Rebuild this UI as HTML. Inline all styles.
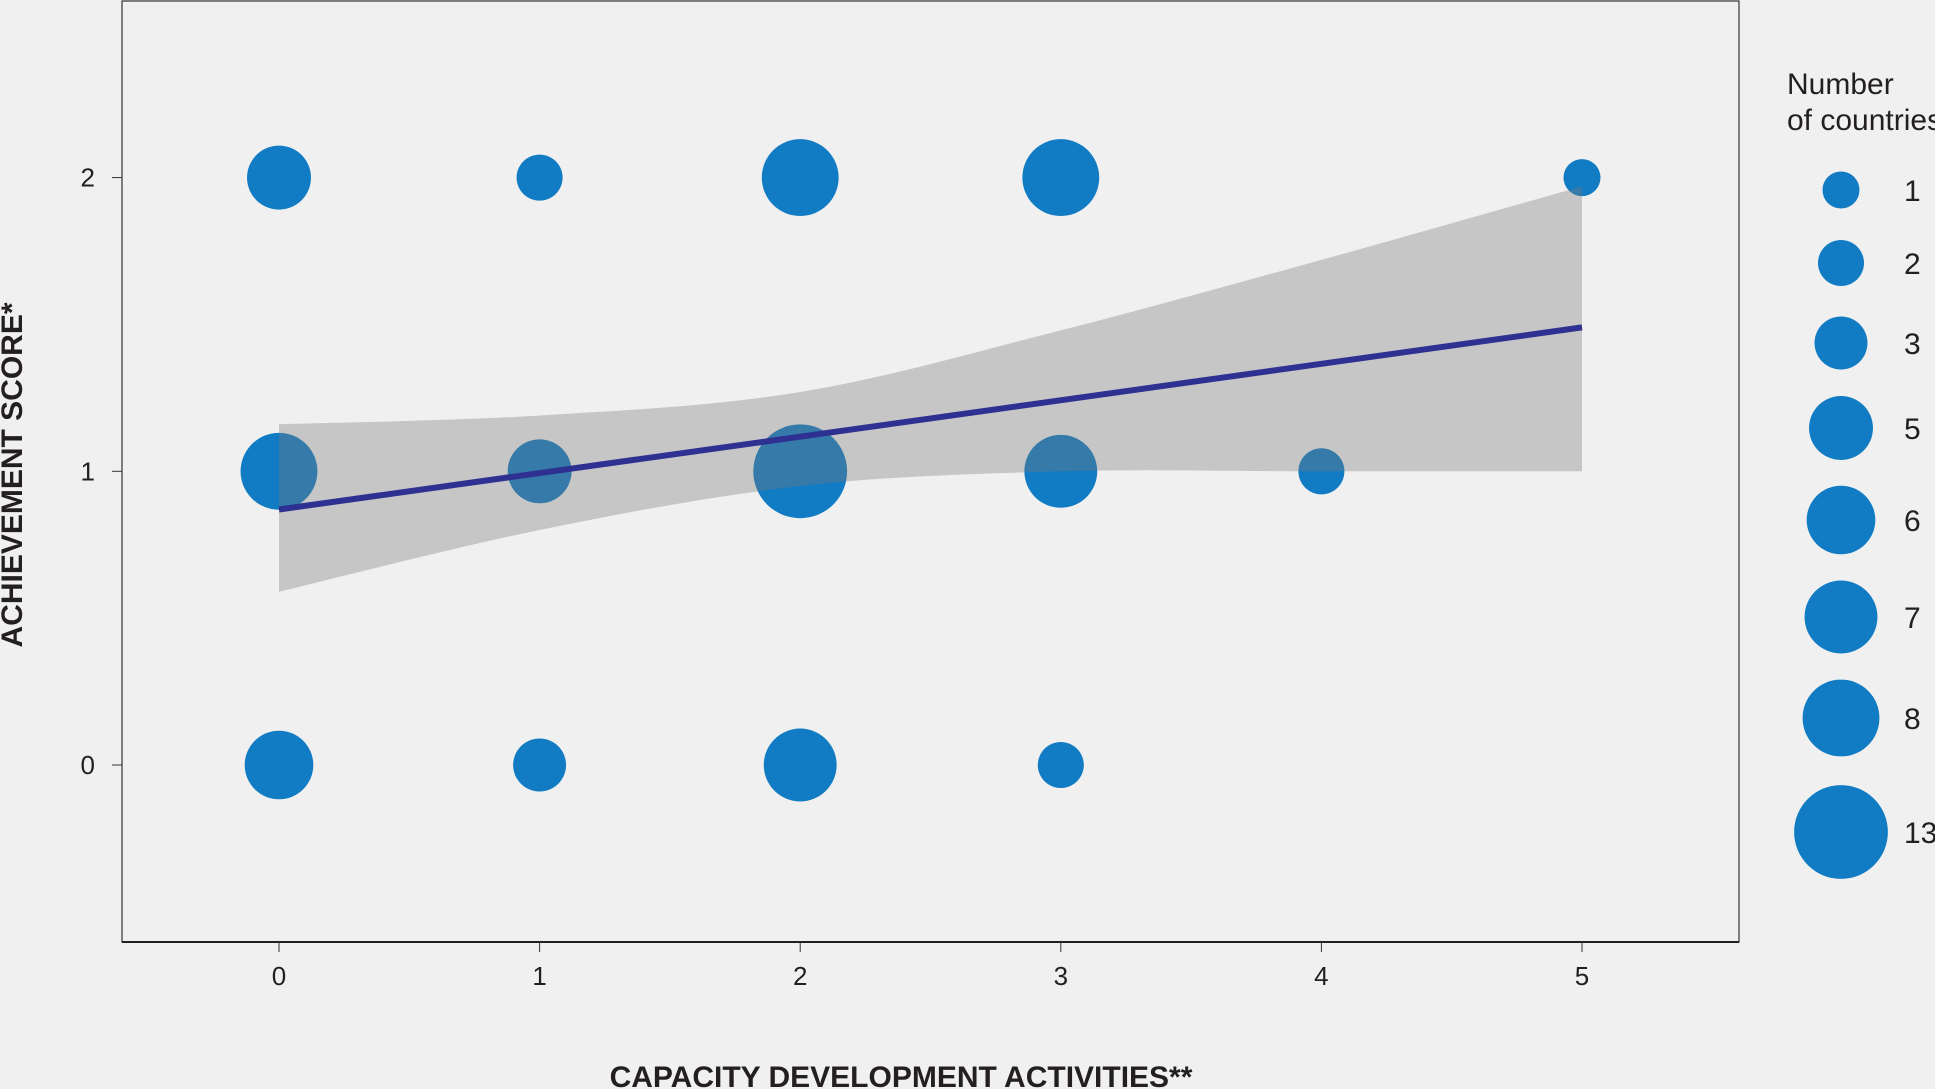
<!DOCTYPE html>
<html><head><meta charset="utf-8"><style>
html,body{margin:0;padding:0;background:#f0f0f0;}
svg{display:block;font-family:"Liberation Sans Narrow","Liberation Sans",sans-serif;}
</style></head><body>
<svg id="chart" width="1935" height="1089" viewBox="0 0 1935 1089">
<rect x="0" y="0" width="1935" height="1089" fill="#f0f0f0"/>
<g id="bubbles"></g>
<g id="band"></g>
<g id="axes"></g>
<g id="legend"></g>
<text x="901" y="1087" text-anchor="middle" font-size="30" font-weight="bold" fill="#231f20">CAPACITY DEVELOPMENT ACTIVITIES**</text>
<text transform="translate(22,475) rotate(-90)" text-anchor="middle" font-size="30" font-weight="bold" fill="#231f20">ACHIEVEMENT SCORE*</text>
</svg>
<script>
const pointX = [0,1,2,3,5, 0,1,2,3,4, 0,1,2,3];
const pointY = [2,2,2,2,2, 1,1,1,1,1, 0,0,0,0];
const pointCount = [5,2,8,8,1, 8,5,13,7,2, 6,3,7,2];
const xTicks = [0,1,2,3,4,5];
const yTicks = [0,1,2];
const fitX = [0,5];
const fitY = [0.87,1.49];
const bandX = [0,1,2,3,4,5];
const bandUpper = [1.16,1.19,1.27,1.48,1.72,1.97];
const bandLower = [0.59,0.80,0.95,1.00,1.00,1.00];
const legendCounts = [1,2,3,5,6,7,8,13];

const NS="http://www.w3.org/2000/svg";
const L=122,R=1739,T=1,B=942;
function sx(v){return 279+v*260.6;}
function sy(v){return 765-v*293.7;}
function rad(n){return 7.6+10.9*Math.sqrt(n);}
function mk(tag,attrs,parent){const e=document.createElementNS(NS,tag);for(const k in attrs)e.setAttribute(k,attrs[k]);parent.appendChild(e);return e;}

const gb=document.getElementById('bubbles');
pointX.forEach((x,i)=>{
  const c=mk('circle',{cx:sx(x),cy:sy(pointY[i]),r:rad(pointCount[i]),fill:'#117cc3'},gb);
  
  
});

const gband=document.getElementById('band');
let d='M'+sx(bandX[0])+','+sy(bandUpper[0]);
// smooth via Catmull-Rom
function path(xs,ys){let s='';for(let i=0;i<xs.length-1;i++){const p0=[sx(xs[Math.max(i-1,0)]),sy(ys[Math.max(i-1,0)])],p1=[sx(xs[i]),sy(ys[i])],p2=[sx(xs[i+1]),sy(ys[i+1])],p3=[sx(xs[Math.min(i+2,xs.length-1)]),sy(ys[Math.min(i+2,xs.length-1)])];
s+=' C'+(p1[0]+(p2[0]-p0[0])/6)+','+(p1[1]+(p2[1]-p0[1])/6)+' '+(p2[0]-(p3[0]-p1[0])/6)+','+(p2[1]-(p3[1]-p1[1])/6)+' '+p2[0]+','+p2[1];}return s;}
d+=path(bandX,bandUpper);
const rx=bandX.slice().reverse(), rl=bandLower.slice().reverse();
d+=' L'+sx(rx[0])+','+sy(rl[0])+path(rx,rl)+' Z';
const bp=mk('path',{d:d,fill:'#777',opacity:'0.35'},gband);


const fl=mk('line',{x1:sx(fitX[0]),y1:sy(fitY[0]),x2:sx(fitX[1]),y2:sy(fitY[1]),stroke:'#2e3192','stroke-width':6},gband);



const ga=document.getElementById('axes');
const fr=mk('rect',{x:L,y:T,width:R-L,height:B-T,fill:'none',stroke:'#333','stroke-width':1.2},ga);


const xa=mk('line',{x1:L,y1:B,x2:R,y2:B,stroke:'#231f20','stroke-width':2},ga);


xTicks.forEach(t=>{
  const tk=mk('line',{x1:sx(t),y1:B,x2:sx(t),y2:B+10,stroke:'#333','stroke-width':1},ga);
  
  
  const tx=mk('text',{x:sx(t),y:985,'text-anchor':'middle','font-size':26,fill:'#231f20'},ga);
  tx.textContent=t;
  
  
});
yTicks.forEach(t=>{
  const tk=mk('line',{x1:L-10,y1:sy(t),x2:L,y2:sy(t),stroke:'#333','stroke-width':1},ga);
  
  
  const tx=mk('text',{x:95,y:sy(t)+9,'text-anchor':'end','font-size':26,fill:'#231f20'},ga);
  tx.textContent=t;
  
  
});

const gl=document.getElementById('legend');
const t1=mk('text',{x:1787,y:94,'font-size':30,fill:'#231f20'},gl);t1.textContent='Number';


const t2=mk('text',{x:1787,y:130,'font-size':30,fill:'#231f20'},gl);t2.textContent='of countries';


const legY=[190,263,343,428,520,617,718,832];
legendCounts.forEach((n,i)=>{
  const c=mk('circle',{cx:1841,cy:legY[i],r:rad(n),fill:'#117cc3'},gl);
  
  
  const t=mk('text',{x:1904,y:legY[i]+11,'font-size':30,fill:'#231f20'},gl);
  t.textContent=n;
  
  
});
</script>
</body></html>
